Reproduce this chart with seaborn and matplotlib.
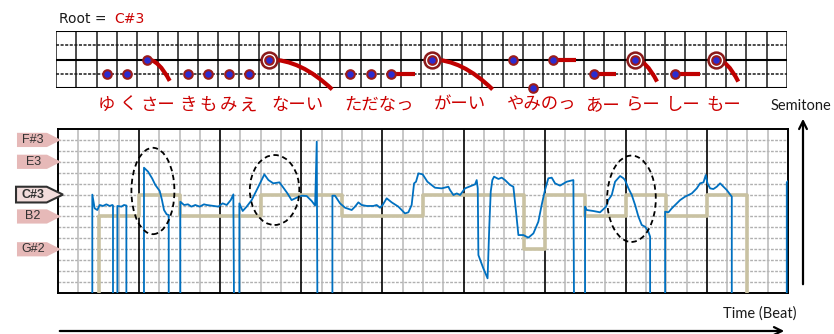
import numpy as np
import matplotlib
matplotlib.use("Agg")
import matplotlib.pyplot as plt
import matplotlib.transforms as mtransforms
from matplotlib.patches import Polygon, Ellipse, PathPatch, FancyArrowPatch
from matplotlib.path import Path
import seaborn as sns

sns.set_theme(style="white")
plt.rcParams["font.family"] = ["DejaVu Sans"]

W, H = 834, 334
REST = -10  # unvoiced -> line drops below the axis

# ── pitch track (beats, semitones relative to root C#3) ──────────────────────
PITCH_BEAT = [
    0.423, 0.423, 0.452, 0.485, 0.514, 0.555, 0.596, 0.637, 0.67, 0.678, 0.678,
    0.732, 0.732, 0.781, 0.814, 0.843, 0.843,
    1.06, 1.06, 1.11, 1.16, 1.20, 1.254, 1.282, 1.307, 1.34, 1.365, 1.365,
    1.508, 1.508, 1.554, 1.603, 1.644, 1.693, 1.747, 1.80, 1.833, 1.915, 1.977,
    2.03, 2.08, 2.13, 2.162, 2.17,
    2.236, 2.236, 2.277, 2.326, 2.388, 2.47, 2.544, 2.594, 2.655, 2.73, 2.77,
    2.828, 2.88, 2.943, 3.005, 3.066, 3.128, 3.17, 3.19, 3.198,
    3.383, 3.383, 3.415, 3.477, 3.539, 3.621, 3.662, 3.703, 3.744, 3.806, 3.888,
    3.929, 3.97, 4.003, 4.052, 4.114, 4.196, 4.278, 4.32, 4.36, 4.39, 4.414,
    4.443, 4.496, 4.554, 4.648, 4.73, 4.813, 4.833, 4.875, 4.916, 4.957, 5.018,
    5.1, 5.142, 5.162, 5.175, 5.183, 5.244, 5.296, 5.318, 5.335, 5.355, 5.376,
    5.43, 5.47, 5.511, 5.573, 5.614, 5.647, 5.676, 5.737, 5.799, 5.861, 5.922,
    5.963, 6.004, 6.045, 6.087, 6.128, 6.189, 6.272, 6.354, 6.362,
    6.498, 6.498, 6.518, 6.6, 6.683, 6.757, 6.785, 6.827, 6.868, 6.93, 6.97,
    6.99, 7.033, 7.074, 7.115, 7.156, 7.197, 7.238, 7.279, 7.3, 7.3,
    7.485, 7.485, 7.526, 7.567, 7.629, 7.67, 7.731, 7.773, 7.814, 7.875, 7.916,
    7.958, 7.986, 8.007, 8.04, 8.08, 8.122, 8.163, 8.204, 8.245, 8.286, 8.307,
    8.307,
    8.985, 8.985, 9.0,
]
PITCH_SEMI = [
    REST, 0.0, -1.26, -1.41, -0.95, -1.04, -0.89, -1.04, -0.95, -1.0, REST,
    REST, -1.04, -1.1, -0.95, -1.0, REST,
    REST, 2.46, 2.10, 1.49, 0.88, 0.33, -0.5, -1.41, -1.81, -1.87, REST,
    REST, -0.65, -0.95, -0.89, -1.1, -0.95, -1.1, -0.89, -0.95, -1.04, -1.1,
    -0.80, -0.95, -0.50, 0.02, REST,
    REST, -0.80, -1.5, -1.1, -0.5, 0.72, 1.85, 1.33, 1.03, 1.12, 0.72,
    0.12, -0.5, -0.28, -0.1, -0.13, -0.59, -1.0, 4.84, REST,
    REST, -0.1, -0.1, -0.8, -1.2, -1.41, -1.1, -0.71, -0.95, -1.04, -1.04,
    -0.95, -1.2, -0.95, -0.34, -0.71, -1.1, -1.72, -1.62, -0.95, 1.03, 1.18,
    1.94, 1.85, 1.18, 0.63, 0.57, 0.72, 0.42, -0.04, 0.11, -0.04, 0.57,
    0.82, 0.94, 1.33, 0.57, -5.53, -6.75, -7.66, -2.78, 0.27, 1.33, 1.64,
    1.43, 1.55, 1.33, 0.88, 0.72, -1.56, -3.7, -3.7, -3.94, -3.55, -2.48,
    -0.95, 0.42, 1.49, 1.55, 1.03, 0.82, 1.18, 1.33, REST,
    REST, -1.1, -1.41, -1.5, -1.62, -1.1, -0.5, -0.04, 1.18, 1.7, 1.5,
    1.33, 0.57, -0.04, -0.95, -2.02, -2.78, -2.94, -3.39, -3.85, REST,
    REST, -1.56, -1.62, -1.26, -0.8, -0.5, -0.19, -0.04, 0.11, 0.57, 1.03,
    1.12, 1.79, 1.03, 0.57, 0.51, 0.72, 1.03, 0.72, 0.42, 0.02, -0.19,
    REST,
    REST, 1.12, 1.24,
]

# ── score melody (step line) ─────────────────────────────────────────────────
NOTE_START = [0.5, 1.0, 1.5, 2.5, 3.5, 4.5, 5.75, 6.0, 6.5, 7.0, 7.5, 8.0, 8.5]
NOTE_PITCH = [-2, 0, -2, 0, -2, 0, -5, 0, -2, 0, -2, 0, REST]

LABEL_NAMES = ["F#3", "E3", "C#3", "B2", "G#2"]
LABEL_SEMI = [5, 3, 0, -2, -5]
ROOT_NAME = "C#3"

# ── upper score panel (16th-note columns, scale rows) ───────────────────────
DOT_COL = [2, 3, 4, 6, 7, 8, 9, 10, 14, 15, 16, 18, 22, 23, 24, 26, 28, 30, 32]
DOT_ROW = [1, 1, 2, 1, 1, 1, 1, 2, 1, 1, 1, 2, 2, 0, 2, 1, 2, 1, 2]
ACCENT_COL = [10, 18, 28, 32]
FALL_COL = [4, 10, 18, 28, 32]
FALL_ROW = [2, 2, 2, 2, 2]
FALL_END_COL = [5.6, 13.6, 21.5, 29.6, 33.6]
FALL_END_ROW = [0.5, -0.1, -0.1, 0.45, 0.45]
HOLD_COL = [16, 24, 26, 30]
HOLD_ROW = [1, 2, 1, 1]
HOLD_END_COL = [17.7, 25.6, 27.6, 31.7]

LYRICS = ["ゆ", "く", "さー", "き", "も", "み", "え", "なーい", "ただなっ",
          "がーい", "やみのっ", "あー", "らー", "しー", "もー"]
LYRIC_COL = [2.5, 3.6, 5.0, 6.5, 7.5, 8.5, 9.5, 11.9, 15.9,
             19.9, 23.9, 26.9, 28.9, 30.9, 32.9]

# ellipses marking overshoot (beat, semitone, width, height)
MARK_BEAT = [1.17, 2.67, 7.07]
MARK_SEMI = [0.33, 0.42, -0.38]
MARK_W = [0.53, 0.61, 0.60]
MARK_H = [7.9, 6.4, 7.9]

BLUE = "#0070C0"
TAN = "#C9C2A2"
RED = "#CC0000"
DARKRED = "#9B1B1B"
PINK = "#E6B9B8"


def fx(px):
    return px / W


def fy(py):
    return 1 - py / H


fig = plt.figure(figsize=(W / 100, H / 100), dpi=100)

# ── lower pitch panel ────────────────────────────────────────────────────────
ax = fig.add_axes([fx(58), fy(293), 730 / W, 164 / H])
ax.set_xlim(0, 9)
ax.set_ylim(-9, 6)
for s in np.arange(-8, 6):
    ax.axhline(s, color="#B0B0B0", lw=1.0, ls=(0, (2, 1)), zorder=1)
for b in np.arange(0.25, 9, 0.25):
    if b % 1:
        ax.axvline(b, color="#B8B8B8", lw=1.1, zorder=1)
    else:
        ax.axvline(b, color="black", lw=1.2, zorder=2)
for sp in ax.spines.values():
    sp.set_color("black")
    sp.set_linewidth(1.4)
ax.set_xticks([])
ax.set_yticks([])

sns.lineplot(x=[NOTE_START[0]] + NOTE_START, y=[REST] + NOTE_PITCH,
             estimator=None, sort=False, drawstyle="steps-post",
             color=TAN, lw=2.6, ax=ax, zorder=3)
sns.lineplot(x=PITCH_BEAT, y=PITCH_SEMI, estimator=None, sort=False,
             color=BLUE, lw=1.3, ax=ax, zorder=4)

for cx, cy, w, h in zip(MARK_BEAT, MARK_SEMI, MARK_W, MARK_H):
    ax.add_patch(Ellipse((cx, cy), w, h, fill=False, ec="black", lw=1.3,
                         ls=(0, (3, 2)), zorder=6))

# note-name tags on the left
trans = mtransforms.blended_transform_factory(ax.transAxes, ax.transData)
for name, s in zip(LABEL_NAMES, LABEL_SEMI):
    root = name == ROOT_NAME
    xl, xs, xt, hh = (-0.0575, -0.0155, 0.0068, 0.72) if root else (-0.0562, -0.0151, 0.0041, 0.65)
    ax.add_patch(Polygon([(xl, s - hh), (xs, s - hh), (xt, s), (xs, s + hh), (xl, s + hh)],
                         closed=True, transform=trans, clip_on=False, zorder=7,
                         fc="#F2DCDB" if root else PINK,
                         ec="#303030" if root else "none", lw=1.5))
    ax.text(-0.034, s, name, transform=trans, ha="center", va="center",
            fontsize=9, family=["Liberation Sans"], color="#303030",
            fontweight="bold" if root else "normal", zorder=8)

# ── upper score panel ────────────────────────────────────────────────────────
ax_top = fig.add_axes([fx(56), fy(88), 731 / W, 57 / H])
ax_top.set_xlim(0, 36)
ax_top.set_ylim(0, 4)
ax_top.axis("off")
for c in range(37):
    ax_top.axvline(c, color="#1a1a1a", lw=1.1, zorder=1)
for r in range(5):
    if r % 2:
        ax_top.axhline(r, color="#1a1a1a", lw=1.1, ls=(0, (2, 1)), zorder=1)
    else:
        ax_top.axhline(r, color="black", lw=1.5, zorder=1)

for c, r, ec, er in zip(FALL_COL, FALL_ROW, FALL_END_COL, FALL_END_ROW):
    x0 = c + 0.5
    path = Path([(x0, r), ((x0 + ec) / 2, r), (ec, er)],
                [Path.MOVETO, Path.CURVE3, Path.CURVE3])
    ax_top.add_patch(PathPatch(path, fill=False, ec="#C00000", lw=3.0,
                               capstyle="butt", clip_on=False, zorder=3))
for c, r, ec in zip(HOLD_COL, HOLD_ROW, HOLD_END_COL):
    ax_top.plot([c + 0.5, ec], [r, r], color="#C00000", lw=3.0,
                solid_capstyle="butt", zorder=3)

sns.scatterplot(x=[c + 0.5 for c in ACCENT_COL], y=[2] * len(ACCENT_COL),
                s=130, color="white", edgecolor="#8B1A1A", linewidth=1.8,
                ax=ax_top, zorder=4, clip_on=False, legend=False)
sns.scatterplot(x=[c + 0.5 for c in DOT_COL], y=DOT_ROW, s=38,
                color="#2B2BD0", edgecolor=DARKRED, linewidth=1.5,
                ax=ax_top, zorder=5, clip_on=False, legend=False)

for word, c in zip(LYRICS, LYRIC_COL):
    ax_top.text(c, -1.2, word, ha="center", va="center", fontsize=12.5,
                color=RED, family=["Noto Sans CJK JP", "DejaVu Sans"],
                clip_on=False)

# ── titles, axis arrows ──────────────────────────────────────────────────────
fig.text(fx(59), fy(19), "Root =", fontsize=10, color="#1a1a1a", va="center")
fig.text(fx(114), fy(19), ROOT_NAME, fontsize=10, color=RED, va="center")
fig.text(fx(771), fy(106), "Semitone", fontsize=10.5, family=["Lato"],
         color="#1a1a1a", va="center")
fig.text(fx(723), fy(314), "Time (Beat)", fontsize=10.5, family=["Lato"],
         color="#1a1a1a", va="center")

fig.add_artist(FancyArrowPatch((fx(803), fy(287)), (fx(803), fy(116)),
                               transform=fig.transFigure, arrowstyle="->",
                               mutation_scale=14, lw=1.6, color="black"))
fig.add_artist(FancyArrowPatch((fx(57), fy(331)), (fx(787), fy(331)),
                               transform=fig.transFigure, arrowstyle="->",
                               mutation_scale=14, lw=1.6, color="black"))

fig.savefig("out.png", dpi=100, facecolor="white")
